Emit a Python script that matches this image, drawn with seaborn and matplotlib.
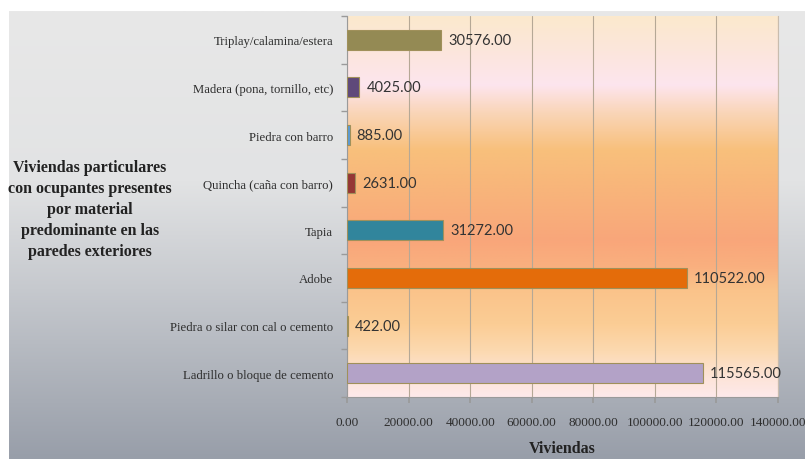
import numpy as np
import pandas as pd
import matplotlib
matplotlib.use("Agg")
import matplotlib.pyplot as plt
from matplotlib.colors import LinearSegmentedColormap
import seaborn as sns

# Wall material categories (top to bottom) and household counts
materiales = [
    "Triplay/calamina/estera",
    "Madera (pona, tornillo, etc)",
    "Piedra con barro",
    "Quincha (caña con barro)",
    "Tapia",
    "Adobe",
    "Piedra o silar con cal o cemento",
    "Ladrillo o bloque de cemento",
]
viviendas = [30576.00, 4025.00, 885.00, 2631.00, 31272.00, 110522.00, 422.00, 115565.00]
colores = ["#948a54", "#5f497a", "#5b9bd5", "#953735", "#31859c", "#e46c0a", "#9bbb59", "#b3a2c7"]
ticks_x = [0, 20000, 40000, 60000, 80000, 100000, 120000, 140000]

titulo = ("Viviendas particulares\ncon ocupantes presentes\npor material\n"
          "predominante en las\nparedes exteriores")

df = pd.DataFrame({"material": materiales, "viviendas": viviendas})

sns.set_theme(style="white")
plt.rcParams["font.family"] = ["Liberation Serif", "DejaVu Serif"]

W, H = 805, 460
fig = plt.figure(figsize=(W / 100, H / 100), dpi=100)
fig.patch.set_facecolor("white")

# Grey backdrop behind the whole chart
bg = fig.add_axes([9 / W, 0, 1 - 9 / W, (H - 12) / H], zorder=-10)
bg_cmap = LinearSegmentedColormap.from_list(
    "bg", [(0.0, "#e8e8e8"), (0.38, "#e2e3e4"), (0.62, "#c6c9ce"), (1.0, "#989ea9")])
bg.imshow(np.linspace(0, 1, 256).reshape(-1, 1), cmap=bg_cmap, aspect="auto",
          extent=[0, 1, 1, 0])
bg.set_axis_off()

# Plot area geometry
left, right, top, bottom = 347, 778, 17, 398
pos = [left / W, (H - bottom) / H, (right - left) / W, (bottom - top) / H]

# Warm gradient fill of the plotting area
pa = fig.add_axes(pos, zorder=-5)
pa_cmap = LinearSegmentedColormap.from_list("pa", [
    (0.00, "#fbe9cd"), (0.09, "#fce6dc"), (0.18, "#fde5ee"), (0.25, "#fad6ba"),
    (0.35, "#f8c07c"), (0.48, "#f8b27a"), (0.59, "#f9a67a"), (0.66, "#f9b07f"),
    (0.72, "#fac38a"), (0.81, "#fbcd95"), (0.88, "#fcd9b0"), (0.95, "#fde4d8"),
    (1.00, "#fde9ea")])
pa.imshow(np.linspace(0, 1, 256).reshape(-1, 1), cmap=pa_cmap, aspect="auto",
          extent=[0, 1, 1, 0])
pa.set_axis_off()

ax = fig.add_axes(pos)
ax.set_facecolor("none")
sns.barplot(data=df, x="viviendas", y="material", hue="material", palette=colores,
            legend=False, orient="h", width=0.42, saturation=1,
            edgecolor="#a0905a", linewidth=0.8, ax=ax, zorder=3)

ax.set_xlim(0, 140000)
ax.set_xticks(ticks_x)
ax.set_xticklabels([f"{t:.2f}" for t in ticks_x], fontsize=9.5, color="#2e2e2e")
ax.grid(axis="x", color="#b5a896", linewidth=0.8, zorder=1)
ax.grid(axis="y", visible=False)
ax.set_axisbelow(True)

ax.spines["top"].set_visible(False)
ax.spines["right"].set_color("#c8bcae")
ax.spines["right"].set_linewidth(0.8)
for s in ["left", "bottom"]:
    ax.spines[s].set_color("#9a9a9a")
    ax.spines[s].set_linewidth(0.8)

ax.tick_params(axis="x", which="major", bottom=True, length=4, color="#9a9a9a",
               pad=10)
ax.tick_params(axis="y", which="major", left=False, length=0, pad=10)
ax.set_yticks(range(len(materiales)))
ax.set_yticklabels(materiales, fontsize=9.2, color="#2e2e2e")
ax.set_yticks(np.arange(-0.5, len(materiales), 1.0), minor=True)
ax.tick_params(axis="y", which="minor", left=True, length=4, color="#9a9a9a")

ax.set_ylabel("")
ax.set_xlabel("Viviendas", fontsize=11.5, fontweight="bold", color="#222222",
              labelpad=8)

# Value labels at the end of each bar
for i, v in enumerate(viviendas):
    ax.annotate(f"{v:.2f}", xy=(v, i), xytext=(5, 0), textcoords="offset points",
                va="center", ha="left", fontsize=10.5, color="#333333",
                family=["Liberation Sans Narrow", "Lato", "DejaVu Sans"], zorder=5)

fig.text(90 / W, 1 - 210 / H, titulo, ha="center", va="center", fontsize=11.5,
         fontweight="bold", color="#222222", linespacing=1.4)

fig.savefig("out.png", dpi=100)
